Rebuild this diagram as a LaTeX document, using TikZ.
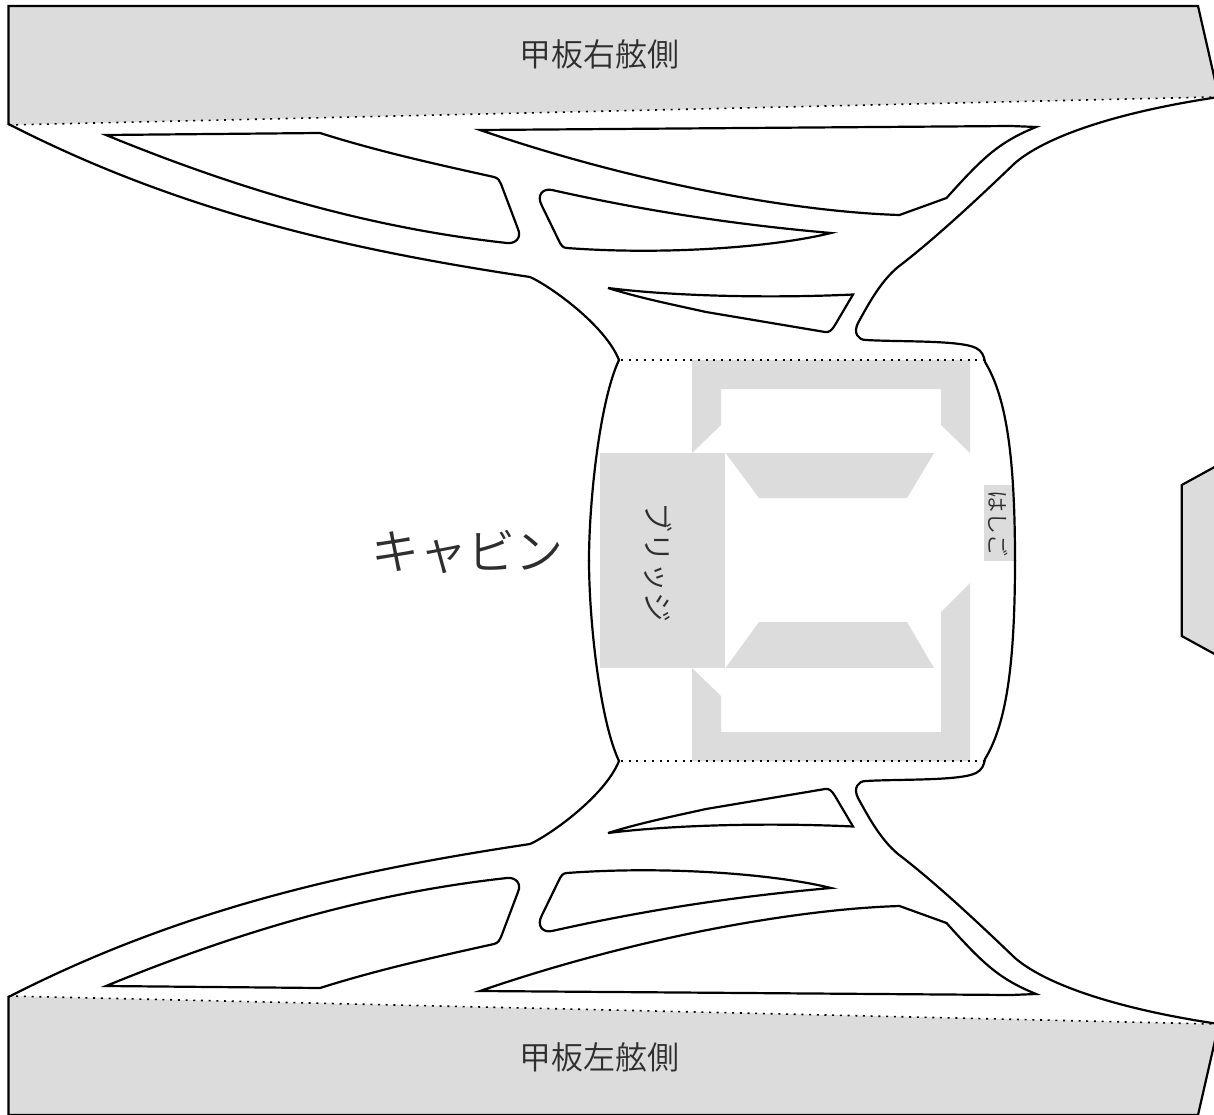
\documentclass[tikz,border=0pt]{standalone}
\usepackage{fontspec}
\newfontfamily\cjk{Noto Sans CJK JP DemiLight}
\definecolor{deck}{HTML}{DCDCDC}
\definecolor{ink}{HTML}{2E2E2E}
\tikzset{
  hull/.style={draw=black,line width=2.2pt,line join=miter,fill=none},
  area/.style={fill=deck,draw=none},
  seam/.style={draw=black,line width=1.6pt,dash pattern=on 2pt off 5.7pt},
  label/.style={text=ink,font=\cjk,inner sep=0pt},
  mirrored/.style={shift={(0,1121)},yscale=-1}
}
\newcommand{\halfshapes}{%
  \fill[area] (8.5,6) -- (1198,6) -- (1219,98) -- (1219,97) -- (8.5,125) -- cycle;
  \draw[seam] (8.5,125) -- (1214,97);
  \draw[seam] (621,360) -- (985,360);
  \draw[hull] (8.5,125) -- (8.5,6) -- (1198,6) -- (1219,98);
  % hull, left
  \draw[hull] (8.5,124) .. controls (180,212) and (350,250) .. (530,277)
     .. controls (550,286) and (605,325) .. (619,360)
     .. controls (600,400) and (589,500) .. (589,561);
  % hull, right
  \draw[hull] (1219,97) .. controls (1130,110) and (1050,133) .. (1015,163)
     .. controls (992,185) and (940,235) .. (898,267)
     .. controls (880,282) and (868,305) .. (858,323)
     .. controls (853,333) and (858,340) .. (866,340)
     .. controls (900,342) and (960,340) .. (976,348)
     .. controls (982,351) and (984,356) .. (985,362)
     .. controls (1005,395) and (1015,450) .. (1015,561);
  % windows
  \draw[hull] (106,135) -- (320,133) .. controls (380,152) and (440,165) .. (494,177)
     .. controls (498,178) and (500,181) .. (501,184) -- (518,229)
     .. controls (522,238) and (515,244) .. (507,243)
     .. controls (370,228) and (240,190) .. (106,135) -- cycle;
  \draw[hull] (480,130) -- (1011,126) -- (1036,127)
     .. controls (1000,142) and (985,155) .. (946.5,198) -- (899.5,215)
     .. controls (800,212) and (640,185) .. (480,130) -- cycle;
  \draw[hull] (552,190) .. controls (650,212) and (740,225) .. (831,233)
     .. controls (770,248) and (660,255) .. (567,248)
     .. controls (563,248) and (561,245) .. (560,243) -- (542,206)
     .. controls (536,195) and (543,188) .. (552,190) -- cycle;
  \draw[hull] (608,288) .. controls (680,297) and (780,298) .. (853,294.5) -- (835,325)
     .. controls (832,330) and (829,333) .. (825,332) -- (706,312)
     .. controls (670,304) and (640,298) .. (608,288) -- cycle;
}
\begin{document}
\begin{tikzpicture}[x=1pt,y=-1pt]
  \clip (0,0) rectangle (1214,1115);
  \fill[white] (0,0) rectangle (1214,1115);
  % central deck areas
  \fill[area] (692,360) -- (970,360) -- (970,453) -- (941,425) -- (941,389)
     -- (721,389) -- (721,425) -- (692,453) -- cycle;
  \fill[area] (692,668) -- (721,696) -- (721,732) -- (941,732) -- (941,612)
     -- (970,583) -- (970,761) -- (692,761) -- cycle;
  \fill[area] (600,453) rectangle (725,668);
  \fill[area] (725.5,453) -- (934,453) -- (907,498) -- (759,498) -- cycle;
  \fill[area] (725.5,668) -- (934,668) -- (907,622) -- (759,622) -- cycle;
  \fill[area] (984,485) rectangle (1014,561);
  % mirrored halves
  \halfshapes
  \begin{scope}[mirrored]
    \halfshapes
  \end{scope}
  % stern piece
  \draw[hull,fill=deck] (1220,464) -- (1181.7,485) -- (1181.7,636) -- (1220,657);
  % labels
  \node[label,font=\cjk\fontsize{32}{32}\selectfont] (deckr) at (599,54) {甲板右舷側};
  \node[label,font=\cjk\fontsize{32}{32}\selectfont] (deckl) at (599,1057) {甲板左舷側};
  \node[label,font=\cjk\fontsize{48}{48}\selectfont] (cabin) at (467,552) {キャビン};
  \node[label,font=\cjk\fontsize{30}{30}\selectfont,rotate=-90] (bridge) at (658,562) {ブリッジ};
  \node[label,font=\cjk\fontsize{22}{22}\selectfont,rotate=-90] (ladder) at (998,523) {はしご};
\end{tikzpicture}
\end{document}
